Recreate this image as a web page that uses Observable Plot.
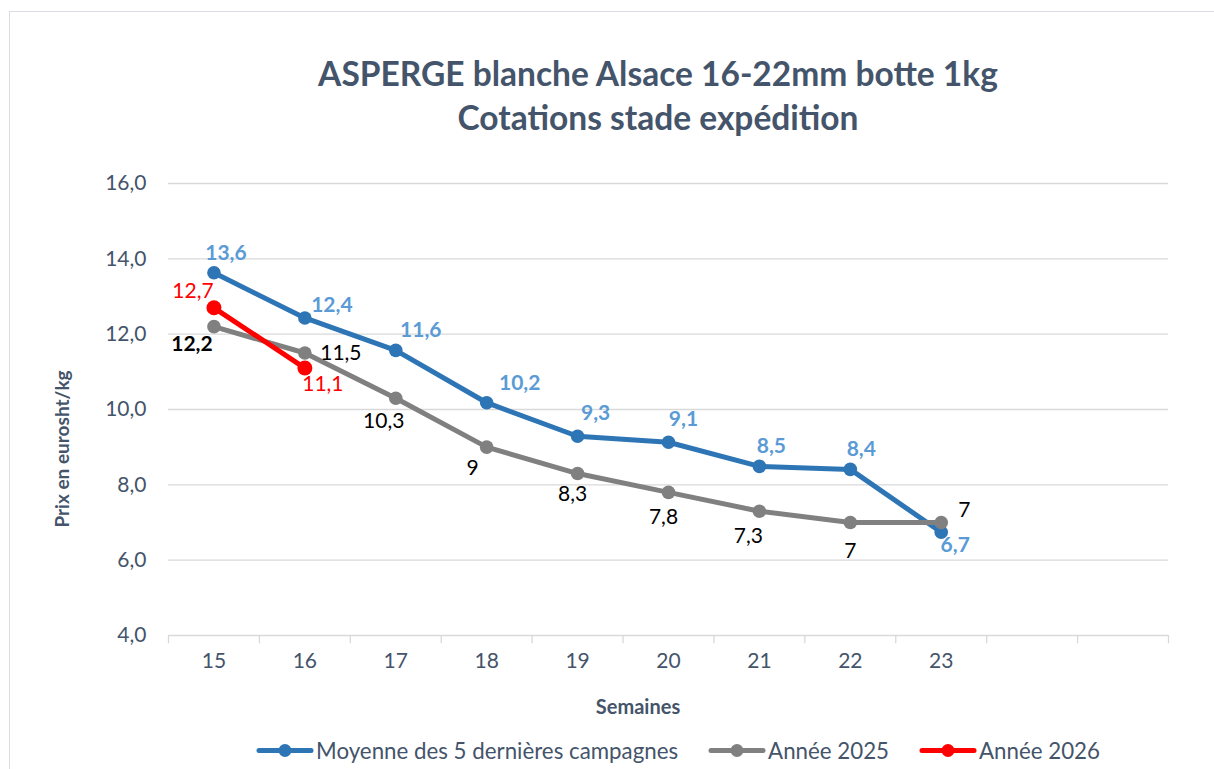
<!DOCTYPE html>
<html><head><meta charset="utf-8">
<script src="https://cdn.jsdelivr.net/npm/d3@7"></script>
<script src="https://cdn.jsdelivr.net/npm/@observablehq/plot@0.6"></script>
<style>
body{margin:0;background:#fff;font-family:Lato,sans-serif;}
#wrap{position:relative;width:1214px;height:769px;overflow:hidden;background:#fff;}
#frame{position:absolute;left:9px;top:11px;width:1400px;height:1000px;border:1.5px solid #D9DDE3;}
#title{position:absolute;left:0;width:1316px;top:51px;text-align:center;font-weight:700;font-size:33.5px;line-height:44px;color:#44546A;}
#chart{position:absolute;left:0;top:140px;}
#ylab{position:absolute;left:61px;top:449px;transform:translate(-50%,-50%) rotate(-90deg);font-weight:700;font-size:19px;color:#44546A;white-space:nowrap;}
#xlab{position:absolute;left:638px;top:706px;transform:translate(-50%,-50%);font-weight:700;font-size:20px;color:#44546A;white-space:nowrap;}
#legend{position:absolute;left:0;width:1356px;top:750px;transform:translateY(-50%);display:flex;justify-content:center;gap:30px;font-size:22.3px;color:#44546A;}
.item{display:flex;align-items:center;gap:2px;white-space:nowrap;}
</style></head>
<body>
<div id="wrap">
  <div id="frame"></div>
  <div id="title">ASPERGE blanche Alsace 16-22mm botte 1kg<br>Cotations stade expédition</div>
  <div id="chart"></div>
  <div id="ylab">Prix en eurosht/kg</div>
  <div id="xlab">Semaines</div>
  <div id="legend"></div>
</div>
<script>
// ---- data ----
const weeks = [15, 16, 17, 18, 19, 20, 21, 22, 23];
const xTickLabels = ["15", "16", "17", "18", "19", "20", "21", "22", "23"];
const yTicks = [4, 6, 8, 10, 12, 14, 16];
const seriesNames = ["Moyenne des 5 dernières campagnes", "Année 2025", "Année 2026"];
const moyenne = [13.63, 12.43, 11.57, 10.18, 9.29, 9.13, 8.49, 8.41, 6.74];
const annee2025 = [12.2, 11.5, 10.3, 9, 8.3, 7.8, 7.3, 7, 7];
const annee2026 = [12.7, 11.1];

// ---- styling / label placement ----
const colors = ["#2E75B6", "#808080", "#FF0000"];
const labelColors = ["#5B9BD5", "#000000", "#FF0000"];
const labelOffsets = [
  [[12,-20],[27,-13],[25,-20],[33,-19],[18,-23],[15,-23],[12,-20],[11,-20],[14,13]],
  [[-22,18],[36,0],[-12,23],[-14,21],[-5,21],[-5,25],[-11,25],[0,29],[23,-12]],
  [[-21,-17],[18,16]]
];
const fmtMoy = v => v.toFixed(1).replace(".", ",");
const fmtPlain = v => String(v).replace(".", ",");

const seriesValues = [moyenne, annee2025, annee2026];
const series = seriesValues.map((vals, s) =>
  vals.map((v, i) => ({week: weeks[i], value: v, s, i})));

const bandEdges = d3.range(14.5, 26, 1);
const grid = yTicks.filter(t => t > 4);

const marks = [
  Plot.ruleY(grid, {stroke: "#D9D9D9", strokeWidth: 1.3}),
  Plot.ruleY([4], {stroke: "#D9D9D9", strokeWidth: 1.6}),
  Plot.ruleX(bandEdges, {x: d => d, y1: 4, y2: 3.78, stroke: "#D9D9D9", strokeWidth: 1.3}),
  Plot.axisY(yTicks, {tickSize: 0, tickPadding: 22, fontSize: 21, fill: "#44546A", tickFormat: d => d.toFixed(1).replace(".", ","), label: null}),
  Plot.axisX(weeks, {tickSize: 0, tickPadding: 18, fontSize: 21, fill: "#44546A", tickFormat: d => xTickLabels[weeks.indexOf(d)], label: null})
];
series.forEach((data, s) => {
  marks.push(Plot.line(data, {x: "week", y: "value", stroke: colors[s], strokeWidth: 5}));
  marks.push(Plot.dot(data, {x: "week", y: "value", fill: colors[s], r: s === 2 ? 7.5 : 6.8}));
});
series.forEach((data, s) => {
  data.forEach((d, i) => {
    const [dx, dy] = labelOffsets[s][i];
    marks.push(Plot.text([d], {
      x: "week", y: "value",
      text: d => s === 0 ? fmtMoy(d.value) : fmtPlain(d.value),
      dx, dy,
      fill: labelColors[s],
      fontSize: 21,
      fontWeight: (s === 0 || (s === 1 && i === 0)) ? 700 : 400
    }));
  });
});

const chart = Plot.plot({
  width: 1214,
  height: 585,
  marginLeft: 168,
  marginRight: 46,
  marginTop: 43,
  marginBottom: 90,
  style: {fontFamily: "Lato, sans-serif", background: "transparent", overflow: "visible"},
  x: {type: "linear", domain: [14.5, 25.5]},
  y: {type: "linear", domain: [4, 16]},
  marks
});
document.getElementById("chart").appendChild(chart);

// legend
const legend = document.getElementById("legend");
seriesNames.forEach((name, s) => {
  const item = document.createElement("div");
  item.className = "item";
  item.innerHTML = `<svg width="58" height="16"><line x1="3" x2="55" y1="8" y2="8" stroke="${colors[s]}" stroke-width="5" stroke-linecap="round"/><circle cx="29" cy="8" r="6.5" fill="${colors[s]}"/></svg><span>${name}</span>`;
  legend.appendChild(item);
});
</script>
</body></html>
